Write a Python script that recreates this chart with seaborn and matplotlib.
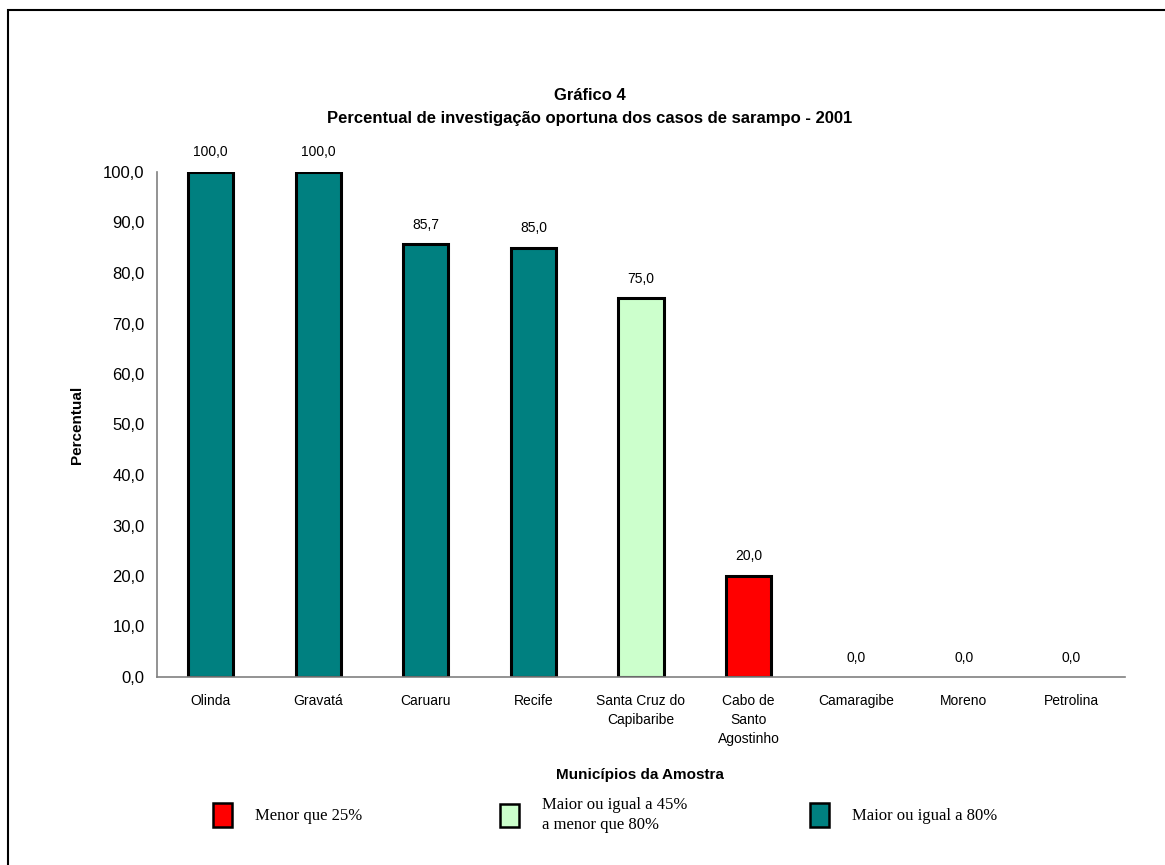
import matplotlib
matplotlib.use("Agg")
import matplotlib.pyplot as plt
import matplotlib.patches as mpatches
import seaborn as sns
import pandas as pd
from matplotlib.ticker import FuncFormatter, FixedLocator

municipios = ["Olinda", "Gravatá", "Caruaru", "Recife", "Santa Cruz do\nCapibaribe",
              "Cabo de\nSanto\nAgostinho", "Camaragibe", "Moreno", "Petrolina"]
percentual = [100.0, 100.0, 85.7, 85.0, 75.0, 20.0, 0.0, 0.0, 0.0]
faixas = ["alto", "alto", "alto", "alto", "medio", "baixo", "baixo", "baixo", "baixo"]

cores = {"baixo": "#FF0000", "medio": "#CCFFCC", "alto": "#008080"}
rotulos = {"baixo": "Menor que 25%",
           "medio": "Maior ou igual a 45%\na menor que 80%",
           "alto": "Maior ou igual a 80%"}

df = pd.DataFrame({"municipio": municipios, "percentual": percentual, "faixa": faixas})

sns.set_style("white")
plt.rcParams["font.family"] = ["Liberation Sans", "DejaVu Sans"]
plt.rcParams["text.color"] = "black"
plt.rcParams["axes.labelcolor"] = "black"
plt.rcParams["xtick.color"] = "black"
plt.rcParams["ytick.color"] = "black"

fig = plt.figure(figsize=(11.65, 8.65), dpi=100)
ax = fig.add_axes([157 / 1165, 1 - 677 / 865, (1125 - 157) / 1165, (677 - 172) / 865])

sns.barplot(data=df, x="municipio", y="percentual", hue="faixa", palette=cores,
            dodge=False, width=0.42, edgecolor="black", linewidth=2.2, saturation=1,
            legend=False, ax=ax, order=municipios)

# zero-valued bars stay hidden under the axis line
for p in ax.patches:
    if p.get_height() == 0:
        p.set_visible(False)

ax.set_ylim(0, 100)
ax.set_xlim(-0.5, len(municipios) - 0.5)
ax.yaxis.set_major_locator(FixedLocator([i * 10 for i in range(11)]))
ax.yaxis.set_major_formatter(FuncFormatter(lambda v, p: f"{v:.1f}".replace(".", ",")))

for s in ["top", "right"]:
    ax.spines[s].set_visible(False)
for s in ["left", "bottom"]:
    ax.spines[s].set_color("#808080")
    ax.spines[s].set_linewidth(1.2)
ax.spines["bottom"].set_zorder(5)

# category labels sit between boundary ticks
ax.set_xticks([i - 0.5 for i in range(len(municipios) + 1)])
ax.set_xticklabels([])
ax.set_xticks(range(len(municipios)), minor=True)
ax.set_xticklabels(municipios, minor=True, fontsize=10, linespacing=1.45)
ax.tick_params(axis="x", which="major", direction="out", length=6, color="#808080", width=1.2)
ax.tick_params(axis="x", which="minor", length=0, pad=12)
ax.tick_params(axis="y", direction="out", length=6, color="#808080", width=1.2,
               labelsize=12, pad=3, labelcolor="black")
ax.set_xlabel("")
ax.set_ylabel("Percentual", fontsize=11, fontweight="bold", labelpad=14)

for i, v in enumerate(percentual):
    ax.annotate(f"{v:.1f}".replace(".", ","), (i, v), xytext=(0, 9),
                textcoords="offset points", ha="center", va="bottom", fontsize=10)

fig.text(590 / 1165, 1 - 95 / 865, "Gráfico 4", ha="center", va="center",
         fontsize=12, fontweight="bold")
fig.text(590 / 1165, 1 - 118 / 865,
         "Percentual de investigação oportuna dos casos de sarampo - 2001",
         ha="center", va="center", fontsize=12, fontweight="bold")
fig.text(640 / 1165, 1 - 775 / 865, "Municípios da Amostra", ha="center", va="center",
         fontsize=11, fontweight="bold")

# legend entries placed individually
posicoes = {"baixo": 213, "medio": 500, "alto": 810}
for k, xpos in posicoes.items():
    h = mpatches.Patch(facecolor=cores[k], edgecolor="black", linewidth=1.8)
    leg = fig.legend([h], [rotulos[k]], loc="center left",
                     bbox_to_anchor=(xpos / 1165, 1 - 815 / 865), frameon=False,
                     handlelength=1.15, handleheight=1.75, handletextpad=1.35,
                     borderaxespad=0, borderpad=0,
                     prop={"family": "Liberation Serif", "size": 12})
    for t in leg.get_texts():
        t.set_linespacing(1.35)

# outer frame
fig.patches.append(mpatches.Rectangle((8 / 1165, -0.1), 1.2, 1 - 10 / 865 + 0.1,
                                      transform=fig.transFigure, fill=False,
                                      edgecolor="black", linewidth=1.5, figure=fig))

fig.savefig("out.png", dpi=100)
